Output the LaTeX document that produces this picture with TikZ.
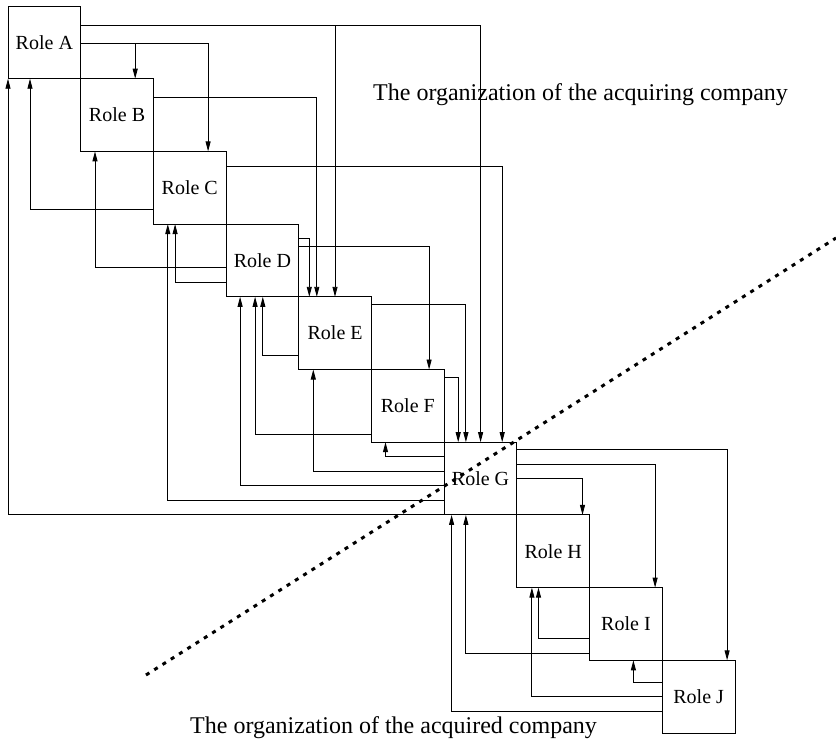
\documentclass[tikz,border=0pt]{standalone}
\usepackage{fontspec}
\setmainfont{Liberation Serif}
\usetikzlibrary{arrows.meta}
\begin{document}
\begin{tikzpicture}[x=1pt,y=-1pt,
  rolebox/.style={draw, line width=0.9pt, minimum width=72.7pt, minimum height=72.7pt,
    inner sep=0pt, outer sep=0pt, font=\fontsize{20}{24}\selectfont},
  link/.style={line width=0.9pt, -{Triangle[length=10pt,width=5pt]}},
  caption/.style={anchor=base west, inner sep=0pt, font=\fontsize{24}{28}\selectfont},
  boundary/.style={line width=3pt, dash pattern=on 4pt off 5.8pt}]
\useasboundingbox (0,0) rectangle (836,740);

% staircase of roles, each box 72.7 wide, stepping down and right
\node[rolebox] (A) at (44.35, 42.35)  {Role A};
\node[rolebox] (B) at (117.05,115.05) {Role B};
\node[rolebox] (C) at (189.75,187.75) {Role C};
\node[rolebox] (D) at (262.45,260.45) {Role D};
\node[rolebox] (E) at (335.15,333.15) {Role E};
\node[rolebox] (F) at (407.85,405.85) {Role F};
\node[rolebox] (G) at (480.55,478.55) {Role G};
\node[rolebox] (H) at (553.25,551.25) {Role H};
\node[rolebox] (I) at (625.95,623.95) {Role I};
\node[rolebox] (J) at (698.65,696.65) {Role J};

% links going down: leave the right side, enter the top
\draw[link] ([yshift=-19pt]A.north east) -| ([xshift=36.4pt]G.north west);
\draw[link] ([yshift=-19pt]A.north east) -| ([xshift=36.2pt]E.north west);
\draw[link] ([yshift=-37pt]A.north east) -| ([xshift=54.5pt]B.north west);
\draw[link] ([yshift=-37pt]A.north east) -| ([xshift=54.7pt]C.north west);
\draw[link] ([yshift=-18.7pt]B.north east) -| ([xshift=18pt]E.north west);
\draw[link] ([yshift=-14.7pt]C.north east) -| ([xshift=58pt]G.north west);
\draw[link] ([yshift=-14.5pt]D.north east) -| ([xshift=10.5pt]E.north west);
\draw[link] ([yshift=-22pt]D.north east) -| ([xshift=57.6pt]F.north west);
\draw[link] ([yshift=-7.5pt]E.north east) -| ([xshift=21.7pt]G.north west);
\draw[link] ([yshift=-7.7pt]F.north east) -| ([xshift=14pt]G.north west);
\draw[link] ([yshift=-7.7pt]G.north east) -| ([xshift=64.8pt]J.north west);
\draw[link] ([yshift=-22pt]G.north east) -| ([xshift=65.5pt]I.north west);
\draw[link] ([yshift=-36.3pt]G.north east) -| ([xshift=65.6pt]H.north west);

% links going up: leave the left side, enter the bottom
\draw[link] ([yshift=-14.7pt]G.north west) -| ([xshift=14pt]F.south west);
\draw[link] ([yshift=-29pt]G.north west) -| ([xshift=14.5pt]E.south west);
\draw[link] ([yshift=-43.7pt]G.north west) -| ([xshift=14pt]D.south west);
\draw[link] ([yshift=-58pt]G.north west) -| ([xshift=14.4pt]C.south west);
\draw[link] (G.south west) -| (A.south west);
\draw[link] ([yshift=-58pt]C.north west) -| ([xshift=22pt]A.south west);
\draw[link] ([yshift=-43.5pt]D.north west) -| ([xshift=14.3pt]B.south west);
\draw[link] ([yshift=-58pt]D.north west) -| ([xshift=21.7pt]C.south west);
\draw[link] ([yshift=-58.2pt]E.north west) -| ([xshift=36.7pt]D.south west);
\draw[link] ([yshift=-65pt]F.north west) -| ([xshift=29pt]D.south west);
\draw[link] ([yshift=-50.7pt]J.north west) -| ([xshift=7.4pt]G.south west);
\draw[link] ([yshift=-65.5pt]I.north west) -| ([xshift=21.7pt]G.south west);
\draw[link] ([yshift=-35.7pt]J.north west) -| ([xshift=15pt]H.south west);
\draw[link] ([yshift=-50.8pt]I.north west) -| ([xshift=21.6pt]H.south west);
\draw[link] ([yshift=-21.7pt]J.north west) -| ([xshift=43.8pt]I.south west);

% captions for the two organizations
\node[caption] (acquiring) at (373,100) {The organization of the acquiring company};
\node[caption] (acquired) at (190,733) {The organization of the acquired company};

% dotted boundary between the two companies
\coordinate (cutlow) at (146,675);
\coordinate (cuthigh) at (836,238);
\draw[boundary] (cutlow) -- (cuthigh);
\end{tikzpicture}
\end{document}
